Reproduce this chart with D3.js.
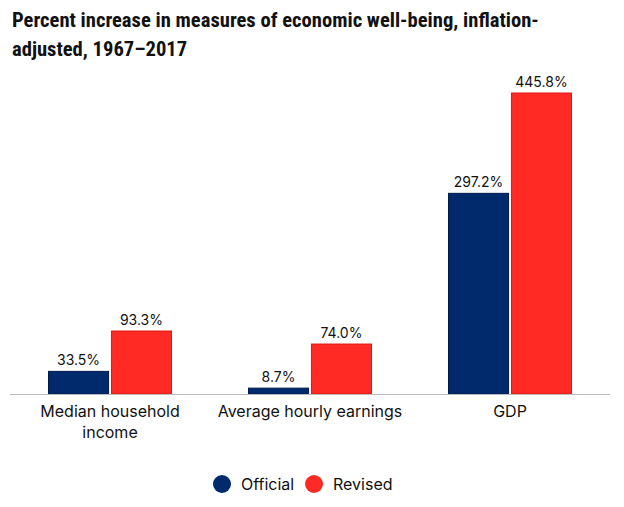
<!DOCTYPE html>
<html>
<head>
<meta charset="utf-8">
<script src="https://cdn.jsdelivr.net/npm/d3@7"></script>
<style>
  body { margin: 0; background: #fff; }
  svg { display: block; }
</style>
</head>
<body>
<svg id="chart"></svg>
<script>
const categories = [["Median household", "income"], ["Average hourly earnings"], ["GDP"]];
const series = ["Official", "Revised"];
const official = [33.5, 8.7, 297.2];
const revised = [93.3, 74.0, 445.8];
const colors = ["#002a6b", "#ff2a24"];
const strokes = ["#001a4a", "#e01810"];

const width = 624, height = 507;
const svg = d3.select("#chart").attr("width", width).attr("height", height);

const titleLines = ["Percent increase in measures of economic well-being, inflation-", "adjusted, 1967\u20132017"];
svg.selectAll(".title").data(titleLines).enter().append("text")
  .attr("x", 12).attr("y", (d, i) => 27 + i * 29)
  .style("font-family", "'Liberation Sans Narrow', 'Roboto Condensed', sans-serif")
  .style("font-weight", "bold").style("font-size", "20.6px").style("fill", "#111")
  .text(d => d);

const x = d3.scaleBand().domain(d3.range(categories.length)).range([10, 610]);
const inner = d3.scaleBand().domain(series).range([38, 162]).paddingInner(0.03);
const y = d3.scaleLinear().domain([0, 445.8]).range([394, 93]);

const rows = categories.map((c, i) => ({ i, vals: [official[i], revised[i]] }));

const g = svg.selectAll(".grp").data(rows).enter().append("g")
  .attr("transform", d => `translate(${x(d.i)},0)`);

g.selectAll("rect").data(d => d.vals.map((v, k) => ({ v, k }))).enter().append("rect")
  .attr("x", d => inner(series[d.k]) + 0.5)
  .attr("y", d => y(d.v))
  .attr("width", inner.bandwidth() - 1)
  .attr("height", d => y(0) - y(d.v))
  .attr("fill", d => colors[d.k])
  .attr("stroke", d => strokes[d.k])
  .attr("stroke-width", 1);

g.selectAll(".val").data(d => d.vals.map((v, k) => ({ v, k }))).enter().append("text")
  .attr("x", d => inner(series[d.k]) + inner.bandwidth() / 2)
  .attr("y", d => y(d.v) - 6)
  .attr("text-anchor", "middle")
  .style("font-family", "Inter, 'Noto Sans', sans-serif")
  .style("font-size", "14px").style("fill", "#111")
  .text(d => d.v.toFixed(1) + "%");

svg.append("line")
  .attr("x1", 10).attr("x2", 610)
  .attr("y1", y(0) + 0.5).attr("y2", y(0) + 0.5)
  .attr("stroke", "#bbb").attr("stroke-width", 1);

g.append("text")
  .attr("text-anchor", "middle")
  .style("font-family", "Inter, 'Noto Sans', sans-serif")
  .style("font-size", "16px").style("fill", "#111")
  .selectAll("tspan").data(d => categories[d.i]).enter().append("tspan")
  .attr("x", x.bandwidth() / 2)
  .attr("y", (d, j) => 417 + j * 21)
  .text(d => d);

const legend = [{ name: "Official", cx: 222, tx: 241 }, { name: "Revised", cx: 314, tx: 333 }];
const lg = svg.selectAll(".lg").data(legend).enter().append("g");
lg.append("circle")
  .attr("cx", d => d.cx).attr("cy", 484).attr("r", 9)
  .attr("fill", (d, i) => colors[i]);
lg.append("text")
  .attr("x", d => d.tx).attr("y", 490)
  .style("font-family", "Inter, 'Noto Sans', sans-serif")
  .style("font-size", "16px").style("fill", "#111")
  .text(d => d.name);
</script>
</body>
</html>
